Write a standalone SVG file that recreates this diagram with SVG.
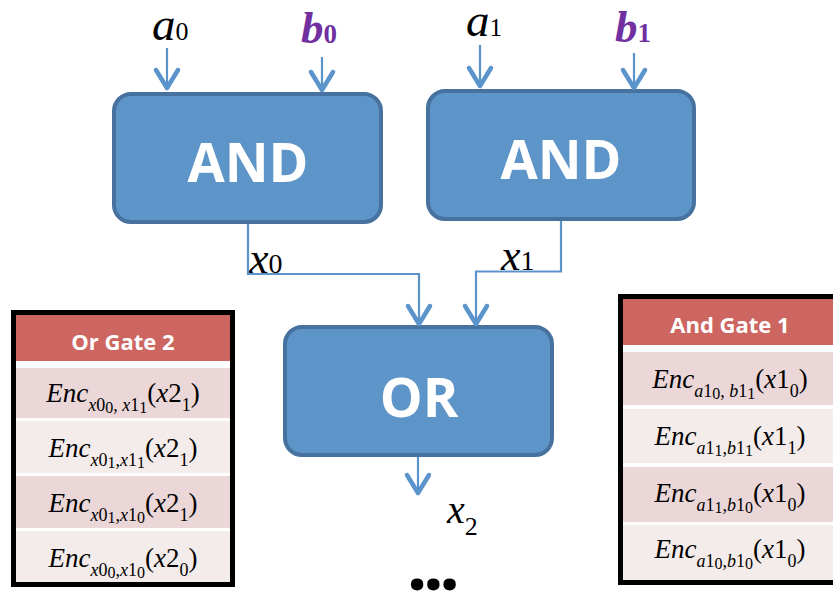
<svg xmlns="http://www.w3.org/2000/svg" width="833" height="593" viewBox="0 0 833 593">
<style>
.gate{fill:#5e95c9;stroke:#47729f;stroke-width:4}
.glabel{font-family:"Open Sans","Liberation Sans",sans-serif;font-weight:700;fill:#fff;text-anchor:middle}
.conn{fill:none;stroke:#5b93cb;stroke-width:2.2}
.m{font-family:"Liberation Serif",serif;fill:#000}
.i{font-style:italic}
.pb{fill:#7030a0;font-weight:700}
.tbl{fill:#fff;stroke:#000;stroke-width:5}
.hdr{fill:#cd6661}
.r1{fill:#ebd7d8}
.r2{fill:#f4eceb}
.htxt{font-family:"Open Sans","Liberation Sans",sans-serif;font-weight:700;font-size:22px;fill:#fff;text-anchor:middle}
.enc{font-family:"Liberation Serif",serif;font-size:27px;fill:#000;text-anchor:middle}
.sub{font-size:18px}
.ss{font-size:16px}
</style>
<defs>
<marker id="arr" markerUnits="userSpaceOnUse" markerWidth="40" markerHeight="40" viewBox="-30 -20 40 40" refX="0" refY="0" orient="auto" overflow="visible">
<path d="M-18,-11 L0,0 L-18,11" fill="none" stroke="#5b93cb" stroke-width="4.5" stroke-linecap="round" stroke-linejoin="round"/>
</marker>
</defs>

<g id="and1">
<rect class="gate" x="114" y="94" width="267" height="128" rx="17"/>
<text class="glabel" x="248" y="182" font-size="54">AND</text>
</g>
<g id="and2">
<rect class="gate" x="428" y="91" width="266" height="128" rx="17"/>
<text class="glabel" x="561" y="179" font-size="54">AND</text>
</g>
<g id="or">
<rect class="gate" x="285" y="327" width="267" height="128" rx="17"/>
<text class="glabel" x="419" y="417" font-size="54">OR</text>
</g>

<g id="labels">
<text class="m" x="152" y="40"><tspan class="i" font-size="47">a</tspan><tspan font-size="26">0</tspan></text>
<text class="m pb" x="301" y="43"><tspan class="i" font-size="45">b</tspan><tspan font-size="27">0</tspan></text>
<text class="m" x="466" y="36"><tspan class="i" font-size="47">a</tspan><tspan font-size="25">1</tspan></text>
<text class="m pb" x="615" y="42"><tspan class="i" font-size="45">b</tspan><tspan font-size="27">1</tspan></text>
<text class="m" x="249" y="273"><tspan class="i" font-size="44">x</tspan><tspan font-size="28">0</tspan></text>
<text class="m" x="501" y="270"><tspan class="i" font-size="44">x</tspan><tspan font-size="28">1</tspan></text>
<text class="m" x="447" y="523"><tspan class="i" font-size="40">x</tspan><tspan font-size="26" dy="12">2</tspan></text>
<text x="407" y="590" font-family="Noto Sans, Open Sans, sans-serif" font-weight="700" font-size="72" letter-spacing="-4">...</text>
</g>

<g id="connectors">
<path class="conn" d="M167,48 V88" marker-end="url(#arr)"/>
<path class="conn" d="M322,57 V90" marker-end="url(#arr)"/>
<path class="conn" d="M480,45 V86" marker-end="url(#arr)"/>
<path class="conn" d="M634,53 V88" marker-end="url(#arr)"/>
<path class="conn" d="M248,224 V274 H419 V324" marker-end="url(#arr)"/>
<path class="conn" d="M561,221 V271.5 H476 V324" marker-end="url(#arr)"/>
<path class="conn" d="M418,457 V493" marker-end="url(#arr)"/>
</g>

<g id="or-gate-2-table">
<rect class="tbl" x="13.5" y="312.5" width="219" height="272"/>
<rect class="hdr" x="16" y="315" width="214" height="46"/>
<rect class="r1" x="16" y="368" width="214" height="50"/>
<rect class="r2" x="16" y="421" width="214" height="52"/>
<rect class="r1" x="16" y="476" width="214" height="52"/>
<rect class="r2" x="16" y="531" width="214" height="51"/>
<text class="htxt" x="123" y="350">Or Gate 2</text>
<text class="enc" x="123" y="402"><tspan class="i">Enc</tspan><tspan class="sub" dy="9"><tspan class="i">x</tspan>0<tspan class="ss" dy="2">0</tspan><tspan dy="-2">, </tspan><tspan class="i">x</tspan>1<tspan class="ss" dy="2">1</tspan></tspan><tspan dy="-11">(</tspan><tspan class="i">x</tspan>2<tspan class="sub" dy="9">1</tspan><tspan dy="-9">)</tspan></text>
<text class="enc" x="123" y="457"><tspan class="i">Enc</tspan><tspan class="sub" dy="9"><tspan class="i">x</tspan>0<tspan class="ss" dy="2">1</tspan><tspan dy="-2">,</tspan><tspan class="i">x</tspan>1<tspan class="ss" dy="2">1</tspan></tspan><tspan dy="-11">(</tspan><tspan class="i">x</tspan>2<tspan class="sub" dy="9">1</tspan><tspan dy="-9">)</tspan></text>
<text class="enc" x="123" y="512"><tspan class="i">Enc</tspan><tspan class="sub" dy="9"><tspan class="i">x</tspan>0<tspan class="ss" dy="2">1</tspan><tspan dy="-2">,</tspan><tspan class="i">x</tspan>1<tspan class="ss" dy="2">0</tspan></tspan><tspan dy="-11">(</tspan><tspan class="i">x</tspan>2<tspan class="sub" dy="9">1</tspan><tspan dy="-9">)</tspan></text>
<text class="enc" x="123" y="567"><tspan class="i">Enc</tspan><tspan class="sub" dy="9"><tspan class="i">x</tspan>0<tspan class="ss" dy="2">0</tspan><tspan dy="-2">,</tspan><tspan class="i">x</tspan>1<tspan class="ss" dy="2">0</tspan></tspan><tspan dy="-11">(</tspan><tspan class="i">x</tspan>2<tspan class="sub" dy="9">0</tspan><tspan dy="-9">)</tspan></text>
</g>

<g id="and-gate-1-table">
<rect class="tbl" x="620.5" y="296.5" width="219" height="286"/>
<rect class="hdr" x="623" y="299" width="214" height="46"/>
<rect class="r1" x="623" y="352" width="214" height="53"/>
<rect class="r2" x="623" y="409" width="214" height="54"/>
<rect class="r1" x="623" y="467" width="214" height="55"/>
<rect class="r2" x="623" y="525" width="214" height="55"/>
<text class="htxt" x="730" y="333">And Gate 1</text>
<text class="enc" x="730" y="388"><tspan class="i">Enc</tspan><tspan class="sub" dy="9"><tspan class="i">a</tspan>1<tspan class="ss" dy="2">0</tspan><tspan dy="-2">, </tspan><tspan class="i">b</tspan>1<tspan class="ss" dy="2">1</tspan></tspan><tspan dy="-11">(</tspan><tspan class="i">x</tspan>1<tspan class="sub" dy="9">0</tspan><tspan dy="-9">)</tspan></text>
<text class="enc" x="730" y="445"><tspan class="i">Enc</tspan><tspan class="sub" dy="9"><tspan class="i">a</tspan>1<tspan class="ss" dy="2">1</tspan><tspan dy="-2">,</tspan><tspan class="i">b</tspan>1<tspan class="ss" dy="2">1</tspan></tspan><tspan dy="-11">(</tspan><tspan class="i">x</tspan>1<tspan class="sub" dy="9">1</tspan><tspan dy="-9">)</tspan></text>
<text class="enc" x="730" y="502"><tspan class="i">Enc</tspan><tspan class="sub" dy="9"><tspan class="i">a</tspan>1<tspan class="ss" dy="2">1</tspan><tspan dy="-2">,</tspan><tspan class="i">b</tspan>1<tspan class="ss" dy="2">0</tspan></tspan><tspan dy="-11">(</tspan><tspan class="i">x</tspan>1<tspan class="sub" dy="9">0</tspan><tspan dy="-9">)</tspan></text>
<text class="enc" x="730" y="558"><tspan class="i">Enc</tspan><tspan class="sub" dy="9"><tspan class="i">a</tspan>1<tspan class="ss" dy="2">0</tspan><tspan dy="-2">,</tspan><tspan class="i">b</tspan>1<tspan class="ss" dy="2">0</tspan></tspan><tspan dy="-11">(</tspan><tspan class="i">x</tspan>1<tspan class="sub" dy="9">0</tspan><tspan dy="-9">)</tspan></text>
</g>
</svg>
